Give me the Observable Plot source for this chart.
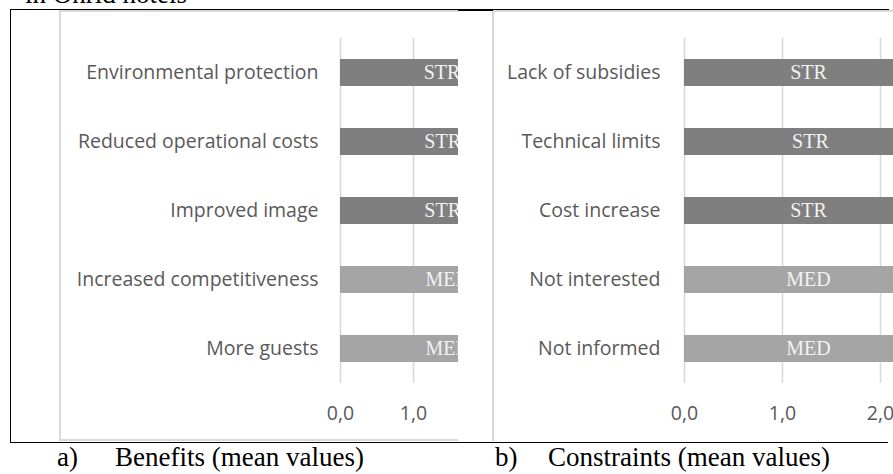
<!DOCTYPE html>
<html>
<head>
<meta charset="utf-8">
<script src="https://cdn.jsdelivr.net/npm/d3@7"></script>
<script src="https://cdn.jsdelivr.net/npm/@observablehq/plot@0.6"></script>
<style>
  html, body { margin: 0; padding: 0; background: #fff; overflow: hidden; }
  #page { position: relative; width: 893px; height: 474px; overflow: hidden; background: #fff; }
  .abs { position: absolute; }
  .serif { font-family: "Liberation Serif", "Times New Roman", serif; font-size: 27px; line-height: 27px; color: #000; white-space: nowrap; }
  .line { position: absolute; }
  #leftPlot svg, #rightPlot svg { max-width: none !important; display: block; }
</style>
</head>
<body>
<div id="page">
  <div class="abs serif" style="left:25px; top:-18.6px;">in Ohrid hotels</div>

  <div id="leftClip" class="abs" style="left:11px; top:10px; width:447px; height:431px; overflow:hidden;">
    <div id="leftPlot" class="abs" style="left:49px; top:0px; width:700px; height:430px;"></div>
  </div>
  <div id="rightClip" class="abs" style="left:458px; top:10px; width:435px; height:431px; overflow:hidden; background:#fff;">
    <div id="rightPlot" class="abs" style="left:35px; top:0px; width:620px; height:430px;"></div>
  </div>

  <!-- grey chart-area borders -->
  <div class="line" style="left:59px; top:10px; width:2px; height:431px; background:#d9d9d9;"></div>
  <div class="line" style="left:60px; top:10px; width:398px; height:2px; background:#d9d9d9;"></div>
  <div class="line" style="left:60px; top:439px; width:398px; height:2px; background:#d9d9d9;"></div>
  <div class="line" style="left:492px; top:10px; width:2px; height:431px; background:#d9d9d9;"></div>
  <div class="line" style="left:493px; top:10px; width:400px; height:2px; background:#d9d9d9;"></div>

  <!-- black frame -->
  <div class="line" style="left:10px; top:9px; width:879px; height:1px; background:#000;"></div>
  <div class="line" style="left:458px; top:9px; width:35px; height:2px; background:#000;"></div>
  <div class="line" style="left:10px; top:9px; width:1px; height:434px; background:#000;"></div>
  <div class="line" style="left:10px; top:442px; width:878px; height:1px; background:#000;"></div>

  <!-- captions -->
  <div class="abs serif" style="left:57px; top:444.4px;">a)</div>
  <div class="abs serif" style="left:115px; top:444.4px;">Benefits (mean values)</div>
  <div class="abs serif" style="left:495px; top:444.4px;">b)</div>
  <div class="abs serif" style="left:548px; top:444.4px;">Constraints (mean values)</div>
</div>
<script>
// ---- data ----
const benefitCategories = ["Environmental protection", "Reduced operational costs", "Improved image", "Increased competitiveness", "More guests"];
const benefitValues = [2.78, 2.80, 2.80, 2.94, 2.94];
const benefitLevels = ["STR", "STR", "STR", "MED", "MED"];

const constraintCategories = ["Lack of subsidies", "Technical limits", "Cost increase", "Not interested", "Not informed"];
const constraintValues = [2.53, 2.57, 2.53, 2.53, 2.53];
const constraintLevels = ["STR", "STR", "STR", "MED", "MED"];

const benefitTicks = [0, 1, 2, 3, 4, 5];
const constraintTicks = [0, 1, 2, 3, 4];

const levelDomain = ["STR", "MED"];
const levelColors = ["#7f7f7f", "#a5a5a5"];

function panel({cats, vals, levels, ticks, width, marginLeft, marginRight, labelPad}) {
  const data = cats.map((c, i) => ({category: c, value: vals[i], level: levels[i]}));
  return Plot.plot({
    width,
    height: 430,
    marginTop: 28,
    marginBottom: 57,
    marginLeft,
    marginRight,
    x: {domain: [ticks[0], ticks[ticks.length - 1]], axis: null},
    y: {domain: cats, paddingInner: 0.61, paddingOuter: 0.305, axis: null},
    color: {domain: levelDomain, range: levelColors},
    style: {fontFamily: "'Open Sans', sans-serif", fontSize: "19.5px", background: "transparent", overflow: "visible", maxWidth: "none"},
    marks: [
      Plot.gridX(ticks, {stroke: "#d9d9d9", strokeOpacity: 1, strokeWidth: 1.6}),
      Plot.barX(data, {x: "value", y: "category", fill: "level"}),
      Plot.text(data, {x: d => d.value / 2, y: "category", text: "level", fill: "#f2f2f2",
                       fontFamily: "'Liberation Serif', 'Times New Roman', serif", fontSize: 20}),
      Plot.axisX(ticks, {tickSize: 0, tickPadding: 23, tickFormat: d => d.toFixed(1).replace(".", ","),
                         fill: "#595959", fontSize: 19.5, label: null}),
      Plot.axisY({tickSize: 0, tickPadding: labelPad, fill: "#595959", fontSize: 19.5, label: null})
    ]
  });
}

document.getElementById("leftPlot").append(panel({
  cats: benefitCategories, vals: benefitValues, levels: benefitLevels, ticks: benefitTicks,
  width: 700, marginLeft: 280, marginRight: 55, labelPad: 22
}));
document.getElementById("rightPlot").append(panel({
  cats: constraintCategories, vals: constraintValues, levels: constraintLevels, ticks: constraintTicks,
  width: 620, marginLeft: 191, marginRight: 37, labelPad: 24
}));
</script>
</body>
</html>
